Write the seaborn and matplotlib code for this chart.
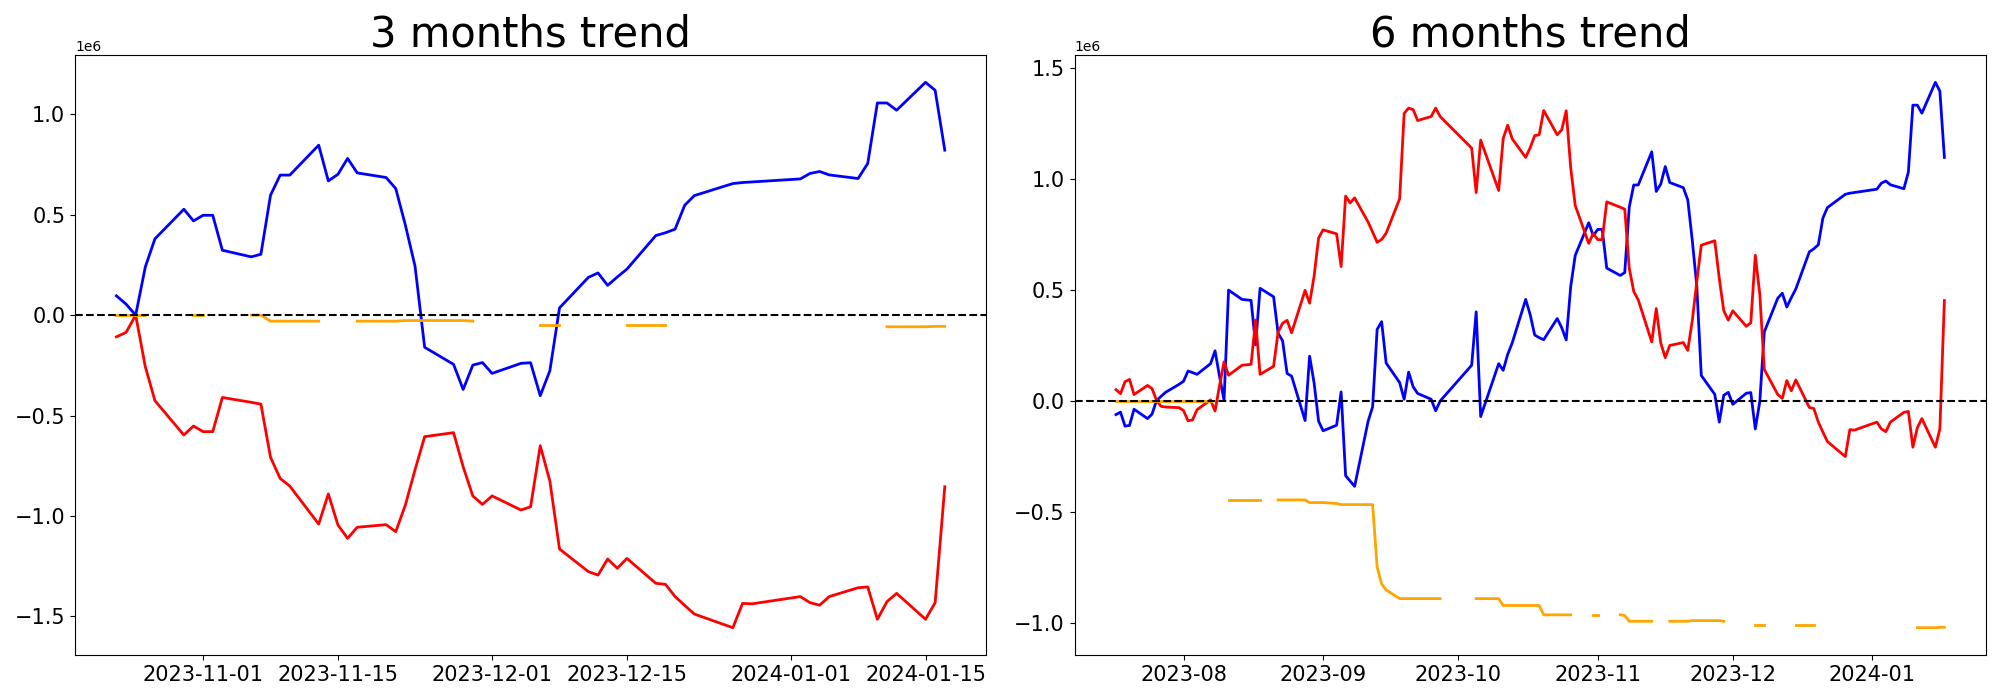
"""
plot.py

Two-panel trend chart (3 months / 6 months) of three cumulative series.
Values are in units of 1e6; orange gaps are missing days.
"""

import matplotlib
matplotlib.use("Agg")
import matplotlib.dates as mdates
import matplotlib.pyplot as plt
import pandas as pd
import seaborn as sns

SCALE = 1e6

# trading calendar (weekdays minus the closed days seen in the chart)
FIRST_DAY = "2023-07-17"
LAST_DAY = "2024-01-17"
START_3M = "2023-10-23"
CLOSED_DAYS = ["2023-09-28", "2023-09-29", "2023-10-02", "2023-10-03",
               "2023-10-09", "2023-12-25", "2023-12-29", "2024-01-01"]

N = None  # missing value

# ---- 3 months (values x1e6) ----
BLUE_3M = [0.096, 0.055, 0.000, 0.240, 0.380, 0.527, 0.469,
           0.497, 0.497, 0.323, 0.290, 0.303, 0.597, 0.697, 0.697, 0.846, 0.668,
           0.701, 0.780, 0.708, 0.685, 0.630, 0.448, 0.244, -0.160, -0.245, -0.370,
           -0.249, -0.236,
           -0.290, -0.240, -0.237, -0.401, -0.277, 0.036, 0.188, 0.210, 0.148, 0.190,
           0.229, 0.396, 0.410, 0.428, 0.547, 0.595, 0.655, 0.660, 0.663,
           0.678, 0.705, 0.715, 0.698, 0.680, 0.755, 1.056, 1.056, 1.020, 1.159,
           1.119, 0.821]
RED_3M = [-0.108, -0.086, 0.000, -0.257, -0.426, -0.597, -0.552,
          -0.580, -0.580, -0.410, -0.434, -0.443, -0.708, -0.813, -0.851, -1.040,
          -0.890, -1.045, -1.111, -1.056, -1.043, -1.078, -0.945, -0.770, -0.605,
          -0.585, -0.755, -0.900, -0.942,
          -0.900, -0.970, -0.954, -0.650, -0.826, -1.164, -1.277, -1.294, -1.214,
          -1.260, -1.211, -1.335, -1.340, -1.401, -1.445, -1.488, -1.556, -1.435,
          -1.437,
          -1.401, -1.431, -1.444, -1.401, -1.357, -1.353, -1.514, -1.426, -1.385,
          -1.514, -1.431, -0.854]
ORANGE_3M = [0, 0, 0, 0, N, N, 0,
             0, N, N, 0, 0, -0.03, -0.03, -0.03, -0.03, N, N, N,
             -0.03, -0.03, -0.03, -0.027, -0.027, -0.027, -0.027, -0.027, -0.03, N,
             N, N, N, -0.048, -0.048, -0.048, N, N, N, N, -0.048, -0.048, -0.048,
             N, N, N, N, N, N,
             N, N, N, N, N, N, N, -0.058, -0.058, -0.058, -0.056, -0.056]

# ---- 6 months (values x1e6) ----
BLUE_6M = [-0.061, -0.050, -0.113, -0.110, -0.037, -0.079, -0.059, 0.002, 0.021,
           0.039, 0.075,
           0.089, 0.135, 0.128, 0.120, 0.168, 0.226, 0.110, 0.003, 0.499, 0.457,
           0.455, 0.453, 0.253, 0.507, 0.469, 0.305, 0.271, 0.124, 0.112, -0.088,
           0.202, 0.081, -0.091,
           -0.134, -0.109, 0.041, -0.336, -0.360, -0.384, -0.091, -0.026, 0.322,
           0.357, 0.171, 0.083, 0.008, 0.130, 0.064, 0.034, 0.008, -0.044, 0.000,
           0.161, 0.401, -0.070, 0.168, 0.138, 0.210, 0.261, 0.457, 0.388, 0.297,
           0.285, 0.276, 0.371, 0.330, 0.275, 0.515, 0.655, 0.802, 0.744,
           0.772, 0.772, 0.598, 0.565, 0.578, 0.872, 0.972, 0.972, 1.121, 0.943,
           0.976, 1.055, 0.983, 0.960, 0.905, 0.723, 0.519, 0.115, 0.030, -0.095,
           0.026, 0.039,
           -0.015, 0.035, 0.038, -0.126, -0.002, 0.311, 0.463, 0.485, 0.423, 0.465,
           0.504, 0.671, 0.685, 0.703, 0.822, 0.870, 0.930, 0.935, 0.938,
           0.953, 0.980, 0.990, 0.973, 0.955, 1.030, 1.331, 1.331, 1.295, 1.434,
           1.394, 1.096]
RED_6M = [0.051, 0.033, 0.087, 0.097, 0.029, 0.070, 0.056, 0.003, -0.024, -0.027,
          -0.030,
          -0.043, -0.089, -0.085, -0.039, 0.005, -0.045, 0.070, 0.176, 0.116, 0.161,
          0.163, 0.165, 0.364, 0.120, 0.156, 0.310, 0.350, 0.363, 0.307, 0.498,
          0.440, 0.562, 0.734,
          0.770, 0.752, 0.605, 0.922, 0.891, 0.914, 0.805, 0.760, 0.714, 0.727,
          0.755, 0.910, 1.294, 1.318, 1.311, 1.262, 1.280, 1.318, 1.280,
          1.138, 0.938, 1.174, 0.947, 1.181, 1.241, 1.180, 1.096, 1.140, 1.194,
          1.198, 1.307, 1.198, 1.220, 1.306, 1.049, 0.880, 0.709, 0.754,
          0.726, 0.726, 0.896, 0.872, 0.863, 0.598, 0.493, 0.455, 0.266, 0.416,
          0.261, 0.195, 0.250, 0.263, 0.228, 0.361, 0.536, 0.701, 0.721, 0.551,
          0.406, 0.364,
          0.406, 0.336, 0.352, 0.656, 0.480, 0.142, 0.029, 0.012, 0.092, 0.046,
          0.095, -0.029, -0.034, -0.095, -0.139, -0.182, -0.250, -0.129, -0.131,
          -0.095, -0.125, -0.138, -0.095, -0.051, -0.047, -0.208, -0.120, -0.079,
          -0.208, -0.125, 0.452]
ORANGE_6M = ([0] * 16 + [N] * 3 + [-0.445] * 6 + [N] + [-0.445] * 5
             + [-0.457] * 4 + [-0.461] + [-0.466] * 6 + [-0.747, -0.823, -0.850]
             + [-0.889] * 8 + [N] + [-0.889] * 3 + [-0.920] * 7 + [-0.962] * 5
             + [N] * 2 + [-0.962] * 2 + [N] * 2 + [-0.962, -0.965]
             + [-0.991] * 4 + [N] * 3 + [-0.991] * 3 + [-0.988] * 5 + [-0.991]
             + [N] * 4 + [-1.010] * 3 + [N] * 4 + [-1.010] * 3 + [N] * 13
             + [-1.020] * 3 + [-1.018] * 2)


def trading_days(start: str) -> pd.DatetimeIndex:
    days = pd.bdate_range(FIRST_DAY, LAST_DAY)
    days = days[~days.isin(pd.to_datetime(CLOSED_DAYS))]
    return days[days >= pd.Timestamp(start)]


def draw_series(ax, dates, values, color) -> None:
    df = pd.DataFrame({"date": dates, "value": pd.Series(values, dtype=float) * SCALE})
    # start a new unit after every gap so the line is not bridged
    df["seg"] = df["value"].isna().cumsum()
    df = df.dropna()
    sns.lineplot(data=df, x="date", y="value", units="seg", estimator=None,
                 color=color, linewidth=2, ax=ax)


def draw_panel(ax, dates, blue, red, orange, title) -> None:
    draw_series(ax, dates, blue, "blue")
    draw_series(ax, dates, red, "red")
    draw_series(ax, dates, orange, "orange")
    ax.axhline(0, color="black", linestyle="--", linewidth=1.5)
    ax.set_title(title, fontsize=30)
    ax.set_xlabel("")
    ax.set_ylabel("")
    ax.tick_params(labelsize=15)


def main() -> None:
    fig, (ax1, ax2) = plt.subplots(1, 2, figsize=(20, 7))

    draw_panel(ax1, trading_days(START_3M), BLUE_3M, RED_3M, ORANGE_3M,
               "3 months trend")
    ax1.xaxis.set_major_locator(mdates.DayLocator(bymonthday=[1, 15]))
    ax1.xaxis.set_major_formatter(mdates.DateFormatter("%Y-%m-%d"))

    draw_panel(ax2, trading_days(FIRST_DAY), BLUE_6M, RED_6M, ORANGE_6M,
               "6 months trend")
    ax2.xaxis.set_major_locator(mdates.MonthLocator())
    ax2.xaxis.set_major_formatter(mdates.DateFormatter("%Y-%m"))

    fig.subplots_adjust(left=0.0375, right=0.9929, bottom=0.0643, top=0.9214,
                        wspace=0.097)
    fig.savefig("out.png", dpi=100)
    plt.close(fig)


if __name__ == "__main__":
    main()
